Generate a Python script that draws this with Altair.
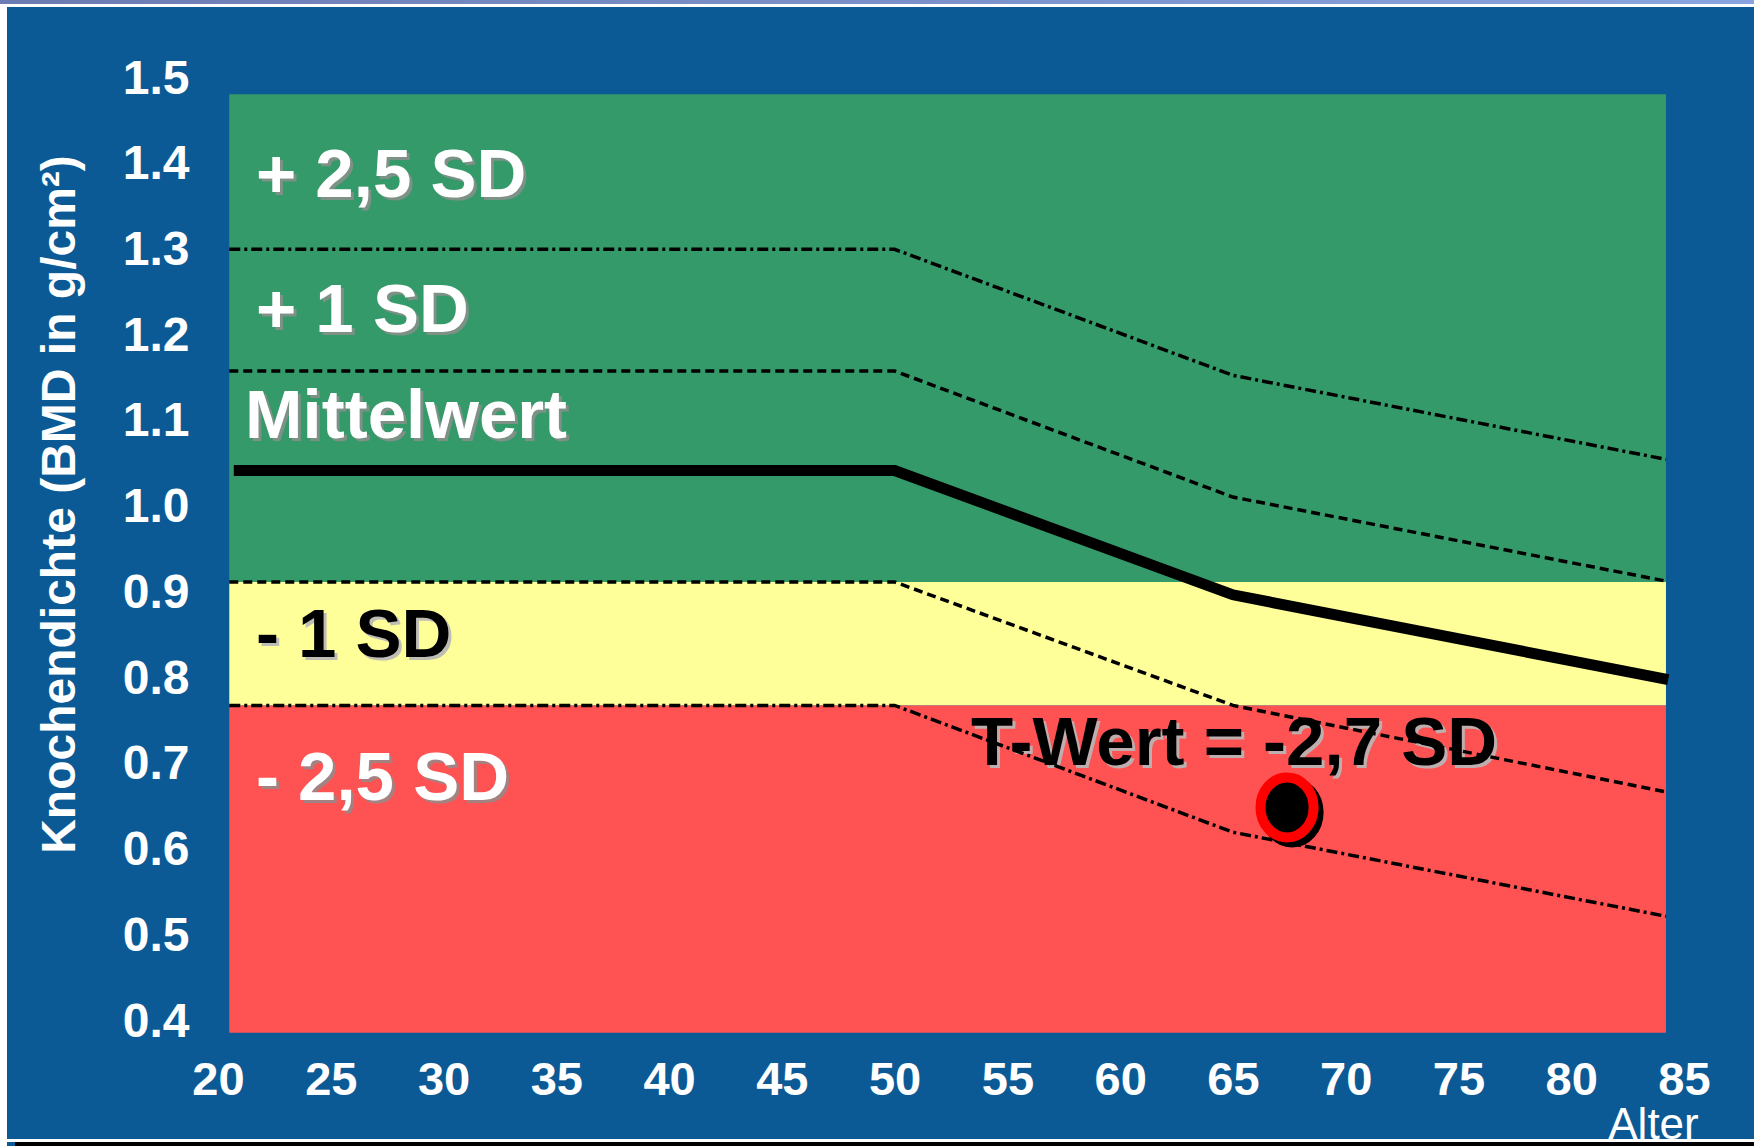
import altair as alt
import pandas as pd

# --- Reference curves: bone mineral density (g/cm²) by age ---------------
ages = [20.5, 50.0, 65.0, 84.2]
mean_ages = [20.7, 50.0, 65.0, 84.3]
bmd_plus_25 = [1.299, 1.299, 1.152, 1.054]
bmd_plus_1 = [1.157, 1.157, 1.010, 0.912]
bmd_mean = [1.041, 1.041, 0.896, 0.797]
bmd_minus_1 = [0.911, 0.911, 0.767, 0.666]
bmd_minus_25 = [0.767, 0.767, 0.619, 0.521]

# --- Diagnostic zones ------------------------------------------------------
zones = ["Normal", "Osteopenie", "Osteoporose"]
zone_upper = [1.480, 0.911, 0.767]
zone_lower = [0.911, 0.767, 0.385]
zone_age_start = 20.5
zone_age_end = 84.2

# --- Patient measurement ---------------------------------------------------
patient_age = [67.4]
patient_bmd = [0.648]

# --- Axis ticks ------------------------------------------------------------
x_ticks = [20, 25, 30, 35, 40, 45, 50, 55, 60, 65, 70, 75, 80, 85]
y_ticks = [0.4, 0.5, 0.6, 0.7, 0.8, 0.9, 1.0, 1.1, 1.2, 1.3, 1.4, 1.5]

# --- Zone / curve labels (anchored in data units) --------------------------
light_labels = ["+ 2,5 SD", "+ 1 SD", "Mittelwert", "- 2,5 SD"]
light_label_age = [21.68, 21.68, 21.20, 21.68]
light_label_bmd = [1.360, 1.2025, 1.079, 0.6566]
dark_labels = ["- 1 SD", "T-Wert = -2,7 SD"]
dark_label_age = [21.68, 53.39]
dark_label_bmd = [0.8234, 0.6975]

FONT = "Liberation Sans"
BLUE = "#0C5A95"

curves = pd.concat([
    pd.DataFrame({"curve": "+2,5 SD", "age": ages, "bmd": bmd_plus_25}),
    pd.DataFrame({"curve": "+1 SD", "age": ages, "bmd": bmd_plus_1}),
    pd.DataFrame({"curve": "Mittelwert", "age": mean_ages, "bmd": bmd_mean}),
    pd.DataFrame({"curve": "-1 SD", "age": ages, "bmd": bmd_minus_1}),
    pd.DataFrame({"curve": "-2,5 SD", "age": ages, "bmd": bmd_minus_25}),
], ignore_index=True)

zone_df = pd.DataFrame({
    "zone": zones,
    "age": [zone_age_start] * len(zones),
    "age_end": [zone_age_end] * len(zones),
    "bmd": zone_upper,
    "bmd_low": zone_lower,
})
patient_df = pd.DataFrame({"age": patient_age, "bmd": patient_bmd})
light_df = pd.DataFrame({"label": light_labels, "age": light_label_age, "bmd": light_label_bmd})
dark_df = pd.DataFrame({"label": dark_labels, "age": dark_label_age, "bmd": dark_label_bmd})

x_scale = alt.Scale(domain=[20, 85], nice=False, zero=False)
y_scale = alt.Scale(domain=[0.4, 1.5], nice=False, zero=False)

x_axis = alt.Axis(
    values=x_ticks, title="Alter", grid=False, ticks=False, domain=False,
    labelFont=FONT, labelFontSize=47, labelFontWeight="bold", labelColor="white",
    labelPadding=37, labelFlush=False, labelOverlap=False, labelBound=False,
    titleFont=FONT, titleFontSize=44, titleFontWeight="normal", titleColor="white",
    titleX=1435, titleY=118, titleAlign="center", titleAnchor="start",
    titleBaseline="alphabetic", titleAngle=0,
)
y_axis = alt.Axis(
    values=y_ticks, format=".1f", title="Knochendichte (BMD in g/cm²)",
    grid=False, ticks=False, domain=False,
    labelFont=FONT, labelFontSize=48, labelFontWeight="bold", labelColor="white",
    labelPadding=29, labelOffset=2, labelFlush=False, labelOverlap=False, labelBound=False,
    titleFont=FONT, titleFontSize=48, titleFontWeight="bold", titleColor="white",
    titleX=-144, titleY=427, titleAngle=270, titleAlign="center", titleAnchor="start",
    titleBaseline="alphabetic",
)


def X(field):
    return alt.X(f"{field}:Q", scale=x_scale, axis=x_axis)


def Y(field):
    return alt.Y(f"{field}:Q", scale=y_scale, axis=y_axis)


bands = alt.Chart(zone_df).mark_rect().encode(
    x=X("age"), x2=alt.X2("age_end:Q"),
    y=Y("bmd"), y2=alt.Y2("bmd_low:Q"),
    color=alt.Color("zone:N", scale=alt.Scale(domain=zones, range=["#359A69", "#FFFF99", "#FF5252"]),
                    legend=None),
)

dashed = alt.Chart(curves).transform_filter(
    alt.FieldOneOfPredicate(field="curve", oneOf=["+1 SD", "-1 SD"])
).mark_line(color="black", strokeWidth=3.5, strokeDash=[9, 5]).encode(
    x=X("age"), y=Y("bmd"), detail="curve:N"
)

dash_dot = alt.Chart(curves).transform_filter(
    alt.FieldOneOfPredicate(field="curve", oneOf=["+2,5 SD", "-2,5 SD"])
).mark_line(color="black", strokeWidth=3.5, strokeDash=[11, 4, 3, 4]).encode(
    x=X("age"), y=Y("bmd"), detail="curve:N"
)

mean_line = alt.Chart(curves).transform_filter(
    alt.datum.curve == "Mittelwert"
).mark_line(color="black", strokeWidth=11, strokeCap="butt", strokeJoin="miter").encode(
    x=X("age"), y=Y("bmd")
)

text_style = dict(align="left", baseline="alphabetic", font=FONT, fontWeight="bold", fontSize=69)

light_shadow = alt.Chart(light_df).mark_text(color="#8f8f8f", opacity=0.8, dx=3, dy=3, **text_style).encode(
    x=X("age"), y=Y("bmd"), text="label:N")
light_text = alt.Chart(light_df).mark_text(color="white", **text_style).encode(
    x=X("age"), y=Y("bmd"), text="label:N")
dark_shadow = alt.Chart(dark_df).mark_text(color="#b8b8b8", opacity=0.9, dx=3, dy=3, **text_style).encode(
    x=X("age"), y=Y("bmd"), text="label:N")
dark_text = alt.Chart(dark_df).mark_text(color="black", **text_style).encode(
    x=X("age"), y=Y("bmd"), text="label:N")

# slightly tall ellipse for the patient marker
ellipse = "M -0.885 0 A 0.885 1 0 1 0 0.885 0 A 0.885 1 0 1 0 -0.885 0 Z"
marker_shadow = alt.Chart(patient_df).mark_point(
    shape=ellipse, size=3600, filled=True, fill="black", stroke="black",
    strokeWidth=10, opacity=1, xOffset=5, yOffset=5,
).encode(x=X("age"), y=Y("bmd"))
marker = alt.Chart(patient_df).mark_point(
    shape=ellipse, size=3600, filled=True, fill="black", stroke="#FF0000",
    strokeWidth=10, opacity=1, fillOpacity=1, strokeOpacity=1,
).encode(x=X("age"), y=Y("bmd"))

# slide frame around the chart
one = alt.Data(values=[{}])
frame_top = alt.Chart(one).mark_rect(
    color=alt.LinearGradient(
        gradient="linear", x1=0, x2=1, y1=0, y2=0,
        stops=[alt.GradientStop(color="#6C7BB2", offset=0),
               alt.GradientStop(color="#89A4E0", offset=1)],
    )
).encode(x=alt.value(-218), x2=alt.value(1536), y=alt.value(-77), y2=alt.value(-73))
frame_top_white = alt.Chart(one).mark_rect(color="white").encode(
    x=alt.value(-218), x2=alt.value(1536), y=alt.value(-73), y2=alt.value(-70))
frame_left = alt.Chart(one).mark_rect(color="white").encode(
    x=alt.value(-218), x2=alt.value(-211), y=alt.value(-73), y2=alt.value(1069))
frame_bottom_white = alt.Chart(one).mark_rect(color="white").encode(
    x=alt.value(-218), x2=alt.value(1536), y=alt.value(1062), y2=alt.value(1065))
frame_bottom_black = alt.Chart(one).mark_rect(color="black").encode(
    x=alt.value(-203), x2=alt.value(1536), y=alt.value(1065), y2=alt.value(1069))

chart = alt.layer(
    bands, light_shadow, light_text, dark_shadow, dark_text,
    dashed, dash_dot, mean_line, marker_shadow, marker,
    frame_top, frame_top_white, frame_left, frame_bottom_white, frame_bottom_black,
).properties(
    width=1466, height=943,
    background=BLUE,
    autosize=alt.AutoSizeParams(type="none"),
    padding={"left": 218, "top": 77, "right": 70, "bottom": 126},
).configure_view(strokeWidth=0, fill=None)

chart.save("out.html", embed_options={"renderer": "svg", "actions": False})
